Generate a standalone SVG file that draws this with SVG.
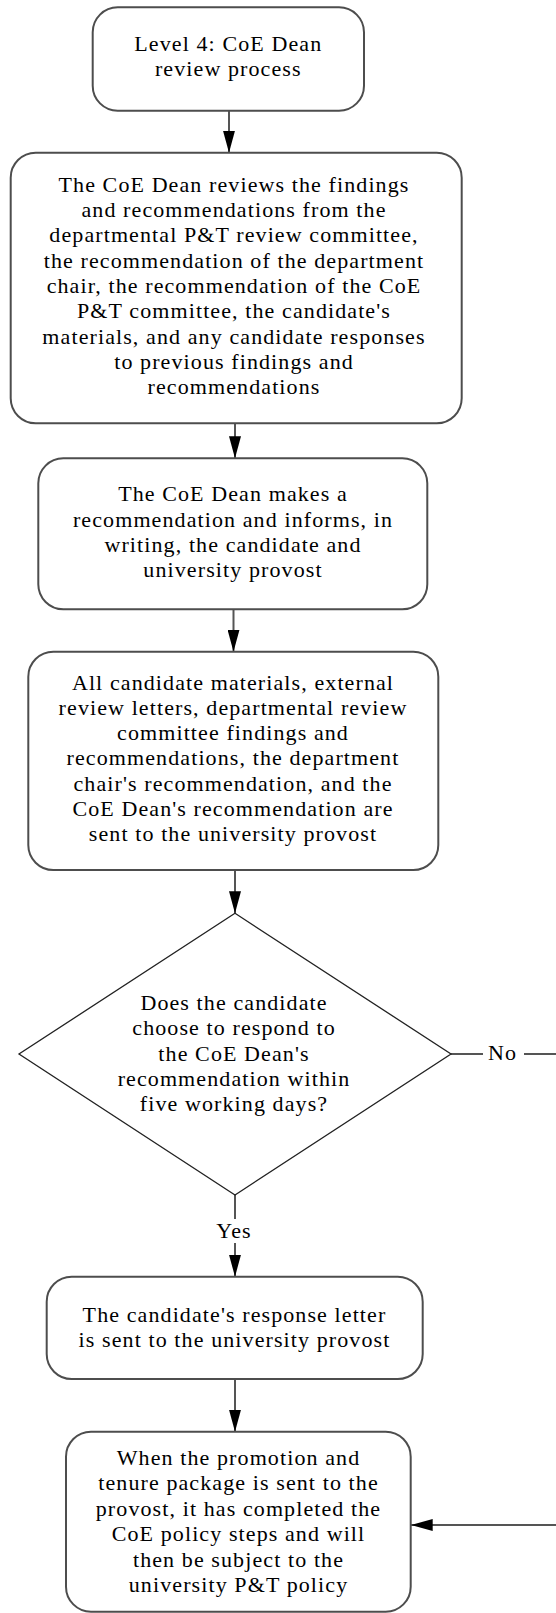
<svg xmlns="http://www.w3.org/2000/svg" width="556" height="1613" viewBox="0 0 556 1613">
  <style>
    .box { fill: #ffffff; stroke: #4d4d4d; stroke-width: 2; }
    .dec { fill: #ffffff; stroke: #222222; stroke-width: 1.3; }
    .edge { fill: none; stroke: #555555; stroke-width: 2; }
    .lbl { font-family: "Liberation Serif", "Times New Roman", serif; font-size: 22px; letter-spacing: 1.1px; fill: #000000; text-anchor: middle; }
  </style>
  <defs>
    <marker id="arrow" viewBox="0 0 22 12" refX="22" refY="6" markerWidth="22" markerHeight="12" markerUnits="userSpaceOnUse" orient="auto">
      <path d="M0,0 L22,6 L0,12 Z" fill="#000000"/>
    </marker>
  </defs>
  <rect width="556" height="1613" fill="#ffffff"/>

  <!-- connectors -->
  <g id="connectors">
    <path class="edge" d="M229,110.7 V152.7" marker-end="url(#arrow)"/>
    <path class="edge" d="M235,423.3 V458.3" marker-end="url(#arrow)"/>
    <path class="edge" d="M233.5,609.3 V651.7" marker-end="url(#arrow)"/>
    <path class="edge" d="M235,870 V913.3" marker-end="url(#arrow)"/>
    <!-- Yes branch -->
    <path class="edge" d="M235,1195 V1219"/>
    <path class="edge" d="M235,1243 V1276.7" marker-end="url(#arrow)"/>
    <text class="lbl" x="234" y="1238">Yes</text>
    <path class="edge" d="M235,1379 V1431.7" marker-end="url(#arrow)"/>
    <!-- No branch: leaves to the right and returns into the final step -->
    <path class="edge" d="M451,1054 H483"/>
    <text class="lbl" x="502.5" y="1060">No</text>
    <path class="edge" d="M524,1054 H556"/>
    <path class="edge" d="M556,1525 H410.7" marker-end="url(#arrow)"/>
  </g>

  <g id="n1">
    <rect class="box" x="92.7" y="7.3" width="271.3" height="103.4" rx="25"/>
    <text class="lbl" x="228.3" y="50.7">Level 4: CoE Dean</text>
    <text class="lbl" x="228.3" y="76">review process</text>
  </g>

  <g id="n2">
    <rect class="box" x="10.7" y="152.7" width="451" height="270.6" rx="25"/>
    <text class="lbl" x="234" y="191.7">The CoE Dean reviews the findings</text>
    <text class="lbl" x="234" y="217">and recommendations from the</text>
    <text class="lbl" x="234" y="242.3">departmental P&amp;T review committee,</text>
    <text class="lbl" x="234" y="267.6">the recommendation of the department</text>
    <text class="lbl" x="234" y="292.9">chair, the recommendation of the CoE</text>
    <text class="lbl" x="234" y="318.2">P&amp;T committee, the candidate's</text>
    <text class="lbl" x="234" y="343.5">materials, and any candidate responses</text>
    <text class="lbl" x="234" y="368.8">to previous findings and</text>
    <text class="lbl" x="234" y="394.1">recommendations</text>
  </g>

  <g id="n3">
    <rect class="box" x="38.3" y="458.3" width="389" height="151" rx="25"/>
    <text class="lbl" x="233" y="501.2">The CoE Dean makes a</text>
    <text class="lbl" x="233" y="526.5">recommendation and informs, in</text>
    <text class="lbl" x="233" y="551.8">writing, the candidate and</text>
    <text class="lbl" x="233" y="577.1">university provost</text>
  </g>

  <g id="n4">
    <rect class="box" x="28.3" y="651.7" width="410" height="218.3" rx="25"/>
    <text class="lbl" x="233" y="689.5">All candidate materials, external</text>
    <text class="lbl" x="233" y="714.8">review letters, departmental review</text>
    <text class="lbl" x="233" y="740.1">committee findings and</text>
    <text class="lbl" x="233" y="765.4">recommendations, the department</text>
    <text class="lbl" x="233" y="790.7">chair's recommendation, and the</text>
    <text class="lbl" x="233" y="816">CoE Dean's recommendation are</text>
    <text class="lbl" x="233" y="841.3">sent to the university provost</text>
  </g>

  <g id="n5">
    <polygon class="dec" points="235,913.3 451,1054 235,1195 19,1054"/>
    <text class="lbl" x="234" y="1010">Does the candidate</text>
    <text class="lbl" x="234" y="1035.3">choose to respond to</text>
    <text class="lbl" x="234" y="1060.6">the CoE Dean's</text>
    <text class="lbl" x="234" y="1085.9">recommendation within</text>
    <text class="lbl" x="234" y="1111.2">five working days?</text>
  </g>

  <g id="n6">
    <rect class="box" x="46.7" y="1276.7" width="376" height="102.3" rx="25"/>
    <text class="lbl" x="234.5" y="1321.7">The candidate's response letter</text>
    <text class="lbl" x="234.5" y="1347">is sent to the university provost</text>
  </g>

  <g id="n7">
    <rect class="box" x="66" y="1431.7" width="344.7" height="180" rx="25"/>
    <text class="lbl" x="238.5" y="1465">When the promotion and</text>
    <text class="lbl" x="238.5" y="1490.4">tenure package is sent to the</text>
    <text class="lbl" x="238.5" y="1515.8">provost, it has completed the</text>
    <text class="lbl" x="238.5" y="1541.2">CoE policy steps and will</text>
    <text class="lbl" x="238.5" y="1566.6">then be subject to the</text>
    <text class="lbl" x="238.5" y="1592">university P&amp;T policy</text>
  </g>
</svg>
